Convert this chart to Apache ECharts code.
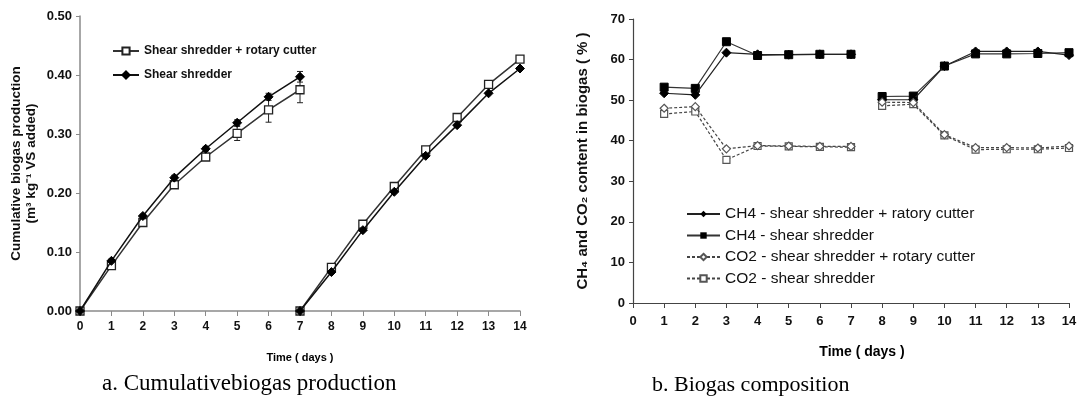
<!DOCTYPE html>
<html>
<head>
<meta charset="utf-8">
<script src="https://cdn.jsdelivr.net/npm/echarts@6/dist/echarts.min.js"></script>
<style>
  html, body { margin: 0; padding: 0; background: #fff; }
  #chart { width: 1083px; height: 409px; }
</style>
</head>
<body>
<div id="chart"></div>
<script>
// days of the two feeding runs
const run1Days = [0, 1, 2, 3, 4, 5, 6, 7]
const run2Days = [7, 8, 9, 10, 11, 12, 13, 14]

// cumulative biogas production (m3 kg-1 VS added)
const rotaryRun1 = [0, 0.077, 0.150, 0.214, 0.261, 0.301, 0.341, 0.375]
const rotaryRun2 = [0, 0.074, 0.147, 0.211, 0.273, 0.328, 0.384, 0.427]
const shearRun1 = [0, 0.085, 0.161, 0.226, 0.275, 0.319, 0.363, 0.397]
const shearRun2 = [0, 0.066, 0.137, 0.202, 0.263, 0.315, 0.369, 0.411]
// error bar half widths for run 1
const rotaryErr1 = [0, 0.003, 0.004, 0.004, 0.005, 0.012, 0.021, 0.022]
const shearErr1 = [0, 0.003, 0.003, 0.004, 0.004, 0.005, 0.006, 0.009]

// gas composition (%)
const compDays1 = [1, 2, 3, 4, 5, 6, 7]
const compDays2 = [8, 9, 10, 11, 12, 13, 14]
const ch4Rotary1 = [51.7, 51.3, 61.7, 61.3, 61.2, 61.3, 61.3]
const ch4Rotary2 = [50.1, 50.1, 58.4, 62.0, 62.0, 62.0, 61.1]
const ch4Shear1 = [53.2, 52.9, 64.4, 61.0, 61.2, 61.3, 61.3]
const ch4Shear2 = [50.9, 51.0, 58.4, 61.4, 61.4, 61.5, 61.7]
const co2Rotary1 = [48.0, 48.4, 38.0, 38.8, 38.7, 38.6, 38.6]
const co2Rotary2 = [49.5, 49.4, 41.5, 38.3, 38.3, 38.2, 38.7]
const co2Shear1 = [46.6, 47.2, 35.3, 38.7, 38.6, 38.5, 38.4]
const co2Shear2 = [48.6, 49.0, 41.3, 37.8, 37.9, 37.9, 38.2]

const prodTicks = [0, 0.1, 0.2, 0.3, 0.4, 0.5]
const compTicks = [0, 10, 20, 30, 40, 50, 60, 70]

// join two runs into one series with a gap between them
function joinRuns(daysA, valsA, daysB, valsB) {
  const out = daysA.map((d, i) => [d, valsA[i]])
  out.push([daysA[daysA.length - 1], '-'])
  daysB.forEach((d, i) => out.push([d, valsB[i]]))
  return out
}

const font = 'Liberation Sans, Arial, sans-serif'

function errorSeries(days, vals, errs) {
  return {
    type: 'custom',
    xAxisIndex: 0,
    yAxisIndex: 0,
    silent: true,
    z: 1,
    data: days.map((d, i) => [d, vals[i] - errs[i], vals[i] + errs[i]]),
    renderItem(params, api) {
      const lo = api.coord([api.value(0), api.value(1)])
      const hi = api.coord([api.value(0), api.value(2)])
      const w = 3
      const style = { stroke: '#222', lineWidth: 1 }
      return {
        type: 'group',
        children: [
          { type: 'line', shape: { x1: lo[0], y1: lo[1], x2: hi[0], y2: hi[1] }, style },
          { type: 'line', shape: { x1: lo[0] - w, y1: lo[1], x2: lo[0] + w, y2: lo[1] }, style },
          { type: 'line', shape: { x1: hi[0] - w, y1: hi[1], x2: hi[0] + w, y2: hi[1] }, style }
        ]
      }
    }
  }
}

const chart = echarts.init(document.getElementById('chart'), null, { renderer: 'canvas' })
chart.setOption({
  animation: false,
  backgroundColor: '#fff',
  textStyle: { fontFamily: font },
  grid: [
    { left: 80, top: 16, width: 440, height: 295 },
    { left: 633, top: 19, width: 436, height: 284 }
  ],
  xAxis: [
    {
      gridIndex: 0, type: 'value', min: 0, max: 14, interval: 1,
      name: 'Time ( days )', nameLocation: 'middle', nameGap: 41,
      nameTextStyle: { color: '#000', fontWeight: 'bold', fontSize: 11, fontFamily: font },
      axisLine: { lineStyle: { color: '#8a8a8a', width: 1.5 } },
      axisTick: { show: true, length: 5, lineStyle: { color: '#8a8a8a' } },
      axisLabel: { color: '#111', fontWeight: 'bold', fontSize: 12, margin: 10, fontFamily: font },
      splitLine: { show: false }
    },
    {
      gridIndex: 1, type: 'value', min: 0, max: 14, interval: 1,
      name: 'Time ( days )', nameLocation: 'middle', nameGap: 42,
      nameTextStyle: { color: '#000', fontWeight: 'bold', fontSize: 14, fontFamily: font, padding: [0, 0, 0, 22] },
      axisLine: { lineStyle: { color: '#444', width: 1.2 } },
      axisTick: { show: true, length: 5, lineStyle: { color: '#444' } },
      axisLabel: { color: '#111', fontWeight: 'bold', fontSize: 13, margin: 12, fontFamily: font },
      splitLine: { show: false }
    }
  ],
  yAxis: [
    {
      gridIndex: 0, type: 'value', min: 0, max: 0.5, interval: 0.1,
      name: 'Cumulative biogas production\n(m³ kg⁻¹ VS added)',
      nameLocation: 'middle', nameGap: 41, nameRotate: 90,
      nameTextStyle: { color: '#111', fontWeight: 'bold', fontSize: 13.5, lineHeight: 15, fontFamily: font },
      axisLine: { show: true, lineStyle: { color: '#8a8a8a', width: 1.5 } },
      axisTick: { show: true, inside: false, length: 4, lineStyle: { color: '#8a8a8a' } },
      axisLabel: {
        color: '#111', fontWeight: 'bold', fontSize: 13, margin: 8, fontFamily: font,
        formatter: v => prodTicks.includes(Math.round(v * 10) / 10) ? v.toFixed(2) : ''
      },
      splitLine: { show: false }
    },
    {
      gridIndex: 1, type: 'value', min: 0, max: 70, interval: 10,
      name: 'CH\u2084 and CO\u2082 content in biogas ( % )',
      nameLocation: 'middle', nameGap: 43, nameRotate: 90,
      nameTextStyle: { color: '#111', fontWeight: 'bold', fontSize: 15, fontFamily: font },
      axisLine: { show: true, lineStyle: { color: '#444', width: 1.2 } },
      axisTick: { show: true, length: 4, lineStyle: { color: '#444' } },
      axisLabel: {
        color: '#111', fontWeight: 'bold', fontSize: 13, margin: 8, fontFamily: font,
        formatter: v => compTicks.includes(v) ? String(v) : ''
      },
      splitLine: { show: false }
    }
  ],
  legend: [
    {
      left: 107, top: 40, orient: 'vertical', itemGap: 12,
      itemWidth: 26, itemHeight: 9,
      textStyle: { color: '#111', fontWeight: 'bold', fontSize: 12, fontFamily: font },
      data: ['Shear shredder + rotary cutter', 'Shear shredder']
    },
    {
      left: 681, top: 201, orient: 'vertical', itemGap: 5.5,
      itemWidth: 33, itemHeight: 8,
      textStyle: { color: '#111', fontSize: 15.5, fontFamily: font },
      data: [
        'CH4 - shear shredder + ratory cutter',
        'CH4 - shear shredder',
        'CO2 - shear shredder + rotary cutter',
        'CO2 - shear shredder'
      ]
    }
  ],
  graphic: [
    {
      type: 'text', left: 102, top: 372,
      style: { text: 'a. Cumulativebiogas production', fill: '#000', font: '23px "Liberation Serif", "Times New Roman", serif' }
    },
    {
      type: 'text', left: 652, top: 374,
      style: { text: 'b. Biogas composition', fill: '#000', font: '22px "Liberation Serif", "Times New Roman", serif' }
    }
  ],
  series: [
    errorSeries(run1Days, rotaryRun1, rotaryErr1),
    errorSeries(run1Days, shearRun1, shearErr1),
    {
      name: 'Shear shredder + rotary cutter', type: 'line', xAxisIndex: 0, yAxisIndex: 0,
      data: joinRuns(run1Days, rotaryRun1, run2Days, rotaryRun2),
      symbol: 'rect', symbolSize: 8, z: 3,
      itemStyle: { color: '#fff', borderColor: '#222', borderWidth: 1.3 },
      lineStyle: { color: '#333', width: 1.5 }
    },
    {
      name: 'Shear shredder', type: 'line', xAxisIndex: 0, yAxisIndex: 0,
      data: joinRuns(run1Days, shearRun1, run2Days, shearRun2),
      symbol: 'diamond', symbolSize: 9, z: 4,
      itemStyle: { color: '#000', borderColor: '#000', borderWidth: 1 },
      lineStyle: { color: '#111', width: 1.5 }
    },
    {
      name: 'CH4 - shear shredder + ratory cutter', type: 'line', xAxisIndex: 1, yAxisIndex: 1,
      data: joinRuns(compDays1, ch4Rotary1, compDays2, ch4Rotary2),
      symbol: 'diamond', symbolSize: 9, z: 4,
      itemStyle: { color: '#000', borderColor: '#000' },
      lineStyle: { color: '#222', width: 1.2 }
    },
    {
      name: 'CH4 - shear shredder', type: 'line', xAxisIndex: 1, yAxisIndex: 1,
      data: joinRuns(compDays1, ch4Shear1, compDays2, ch4Shear2),
      symbol: 'rect', symbolSize: 8, z: 3,
      itemStyle: { color: '#000', borderColor: '#000' },
      lineStyle: { color: '#333', width: 1.2 }
    },
    {
      name: 'CO2 - shear shredder + rotary cutter', type: 'line', xAxisIndex: 1, yAxisIndex: 1,
      data: joinRuns(compDays1, co2Rotary1, compDays2, co2Rotary2),
      symbol: 'diamond', symbolSize: 8, z: 4,
      itemStyle: { color: '#fff', borderColor: '#555', borderWidth: 1.2 },
      lineStyle: { color: '#444', width: 1.2, type: [3, 2] }
    },
    {
      name: 'CO2 - shear shredder', type: 'line', xAxisIndex: 1, yAxisIndex: 1,
      data: joinRuns(compDays1, co2Shear1, compDays2, co2Shear2),
      symbol: 'rect', symbolSize: 7, z: 3,
      itemStyle: { color: '#fff', borderColor: '#555', borderWidth: 1.2 },
      lineStyle: { color: '#444', width: 1.2, type: [3, 2] }
    }
  ]
})
</script>
</body>
</html>
